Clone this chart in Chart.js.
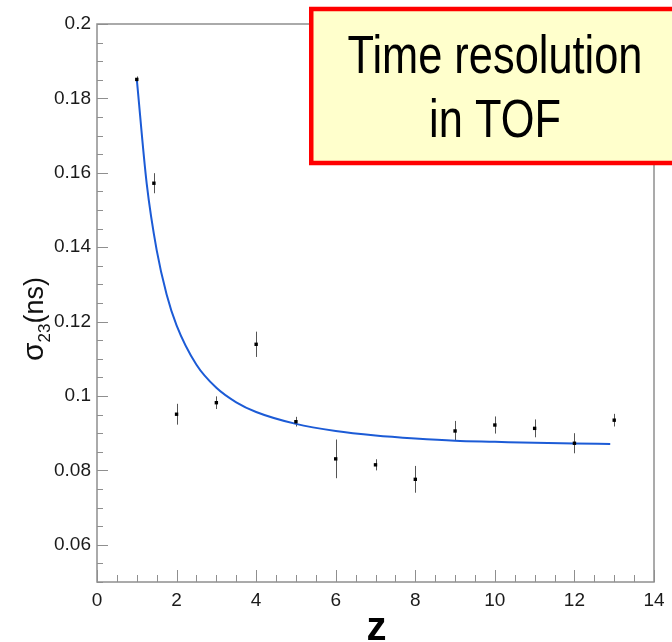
<!DOCTYPE html>
<html>
<head>
<meta charset="utf-8">
<script src="https://cdn.jsdelivr.net/npm/chart.js@4.4.1/dist/chart.umd.min.js"></script>
<style>
	html, body { margin: 0; padding: 0; background: #ffffff; }
	#tof { display: block; }
</style>
</head>
<body>
<canvas id="tof" width="672" height="642"></canvas>
<script>
// Measured points: charge z, sigma_23 (ns) and its error
const zValues     = [1, 1.43, 2, 3, 4, 5, 6, 7, 8, 9, 10, 11, 12, 13];
const sigmaValues = [0.1851, 0.1572, 0.0951, 0.0982, 0.1139, 0.0931, 0.0831, 0.0815, 0.0776, 0.0906, 0.0922, 0.0913, 0.0873, 0.0935];
const sigmaErrors = [0.0008, 0.0027, 0.0028, 0.0017, 0.0034, 0.0013, 0.0052, 0.0015, 0.0036, 0.0027, 0.0023, 0.0024, 0.0027, 0.0017];

// Fit curve
const fitZ     = [1.0, 1.25, 1.5, 1.75, 2.0, 2.5, 3.0, 3.5, 4.0, 5.0, 6.0, 7.0, 8.0, 9.0, 10.0, 11.0, 12.0, 12.9];
const fitSigma = [0.1852, 0.1570, 0.1392, 0.1273, 0.1190, 0.1084, 0.1022, 0.0983, 0.0957, 0.0925, 0.0906, 0.0894, 0.0886, 0.0880, 0.0877, 0.0874, 0.0872, 0.0871];

// Axis ticks
const xMajorTicks = [0, 2, 4, 6, 8, 10, 12, 14];
const yMajorTicks = [0.06, 0.08, 0.1, 0.12, 0.14, 0.16, 0.18, 0.2];
const xMinorStep = 0.5;
const yMinorStep = 0.005;

const boxLines = ['Time resolution', 'in TOF'];

const axisGrey = '#8f8f8f';
const labelFont = '"Liberation Sans", Arial, sans-serif';

function stepTicks(min, max, step){
	const out = [];
	const n = Math.round((max - min) / step);
	for (let i = 0; i <= n; i++) {
		out.push(+(min + i * step).toFixed(4));
	}
	return out;
}

function isMajor(v, majors){
	return majors.some(function(m){ return Math.abs(m - v) < 1e-6; });
}

const xAllTicks = stepTicks(0, 14, xMinorStep);
const yAllTicks = stepTicks(0.05, 0.2, yMinorStep);

// Frame, inward ticks, error bars, axis titles and the note box
const decorations = {
	id: 'decorations',
	beforeDatasetsDraw: function(chart){
		const ctx = chart.ctx;
		const x = chart.scales.x, y = chart.scales.y;
		ctx.save();
		ctx.strokeStyle = '#555555';
		ctx.lineWidth = 1;
		zValues.forEach(function(z, i){
			const px = Math.round(x.getPixelForValue(z)) + 0.5;
			ctx.beginPath();
			ctx.moveTo(px, y.getPixelForValue(sigmaValues[i] - sigmaErrors[i]));
			ctx.lineTo(px, y.getPixelForValue(sigmaValues[i] + sigmaErrors[i]));
			ctx.stroke();
		});
		ctx.restore();
	},
	afterDraw: function(chart){
		const ctx = chart.ctx;
		const area = chart.chartArea;
		const x = chart.scales.x, y = chart.scales.y;

		ctx.save();
		// plot frame
		ctx.strokeStyle = axisGrey;
		ctx.lineWidth = 1.5;
		ctx.strokeRect(area.left, area.top, area.right - area.left, area.bottom - area.top);

		// ticks pointing into the plot
		ctx.lineWidth = 1;
		xAllTicks.forEach(function(v){
			const px = Math.round(x.getPixelForValue(v)) + 0.5;
			const len = isMajor(v, xMajorTicks) ? 12 : 7;
			ctx.beginPath();
			ctx.moveTo(px, area.bottom);
			ctx.lineTo(px, area.bottom - len);
			ctx.stroke();
		});
		yAllTicks.forEach(function(v){
			const py = Math.round(y.getPixelForValue(v)) + 0.5;
			const len = isMajor(v, yMajorTicks) ? 11 : 6;
			ctx.beginPath();
			ctx.moveTo(area.left, py);
			ctx.lineTo(area.left + len, py);
			ctx.stroke();
		});

		// x title
		ctx.fillStyle = '#000000';
		ctx.font = 'bold 40px ' + labelFont;
		ctx.textAlign = 'center';
		ctx.textBaseline = 'alphabetic';
		ctx.fillText('z', (area.left + area.right) / 2 + 1, 640);

		// y title with subscript
		ctx.save();
		ctx.translate(43, 319);
		ctx.rotate(-Math.PI / 2);
		const parts = [
			{ text: 'σ', font: '30px ' + labelFont, dy: 0 },
			{ text: '23', font: '17px ' + labelFont, dy: 7 },
			{ text: '(ns)', font: '27px ' + labelFont, dy: 0 }
		];
		let total = 0;
		parts.forEach(function(p){ ctx.font = p.font; p.w = ctx.measureText(p.text).width; total += p.w; });
		let cx = -total / 2;
		ctx.textAlign = 'left';
		ctx.fillStyle = '#111111';
		parts.forEach(function(p){
			ctx.font = p.font;
			ctx.fillText(p.text, cx, p.dy);
			cx += p.w;
		});
		ctx.restore();

		// note box
		ctx.fillStyle = '#ffffcc';
		ctx.fillRect(311, 9, 380, 154);
		ctx.strokeStyle = '#ff0000';
		ctx.lineWidth = 4.5;
		ctx.strokeRect(311.25, 9, 380, 154);

		ctx.fillStyle = '#000000';
		ctx.font = '53px "Liberation Sans Narrow", "Liberation Sans", Arial, sans-serif';
		const w0 = ctx.measureText(boxLines[0]).width;
		const sx = 295 / w0;
		ctx.textAlign = 'center';
		ctx.save();
		ctx.translate(495, 0);
		ctx.scale(sx, 1);
		ctx.fillText(boxLines[0], 0, 73);
		ctx.fillText(boxLines[1], 0, 137);
		ctx.restore();

		ctx.restore();
	}
};

new Chart(document.getElementById('tof'), {
	type: 'scatter',
	data: {
		datasets: [
			{
				label: 'data',
				data: zValues.map(function(z, i){ return { x: z, y: sigmaValues[i] }; }),
				pointStyle: 'rect',
				pointRadius: 2.4,
				pointBackgroundColor: '#000000',
				pointBorderWidth: 0,
				order: 0
			},
			{
				label: 'fit',
				type: 'line',
				data: fitZ.map(function(z, i){ return { x: z, y: fitSigma[i] }; }),
				borderColor: '#1c5bd6',
				borderWidth: 2,
				pointRadius: 0,
				cubicInterpolationMode: 'monotone',
				fill: false,
				order: 1
			}
		]
	},
	plugins: [decorations],
	options: {
		responsive: false,
		devicePixelRatio: 1,
		animation: false,
		layout: { padding: { top: 24, right: 18, left: 0, bottom: 0 } },
		plugins: {
			legend: { display: false },
			tooltip: { enabled: false }
		},
		scales: {
			x: {
				type: 'linear',
				min: 0,
				max: 14,
				afterBuildTicks: function(scale){
					scale.ticks = xAllTicks.map(function(v){ return { value: v }; });
				},
				afterFit: function(scale){ scale.height = 60; },
				grid: { display: false, drawTicks: false },
				border: { display: false },
				ticks: {
					autoSkip: false,
					maxRotation: 0,
					padding: 7,
					color: '#1a1a1a',
					font: { family: labelFont, size: 19 },
					callback: function(v){ return isMajor(v, xMajorTicks) ? String(v) : ''; }
				}
			},
			y: {
				type: 'linear',
				min: 0.05,
				max: 0.2,
				afterBuildTicks: function(scale){
					scale.ticks = yAllTicks.map(function(v){ return { value: v }; });
				},
				afterFit: function(scale){ scale.width = 97; },
				grid: { display: false, drawTicks: false },
				border: { display: false },
				ticks: {
					autoSkip: false,
					padding: 6,
					color: '#1a1a1a',
					font: { family: labelFont, size: 19 },
					callback: function(v){ return isMajor(v, yMajorTicks) ? String(+v.toFixed(2)) : ''; }
				}
			}
		}
	}
});
</script>
</body>
</html>
